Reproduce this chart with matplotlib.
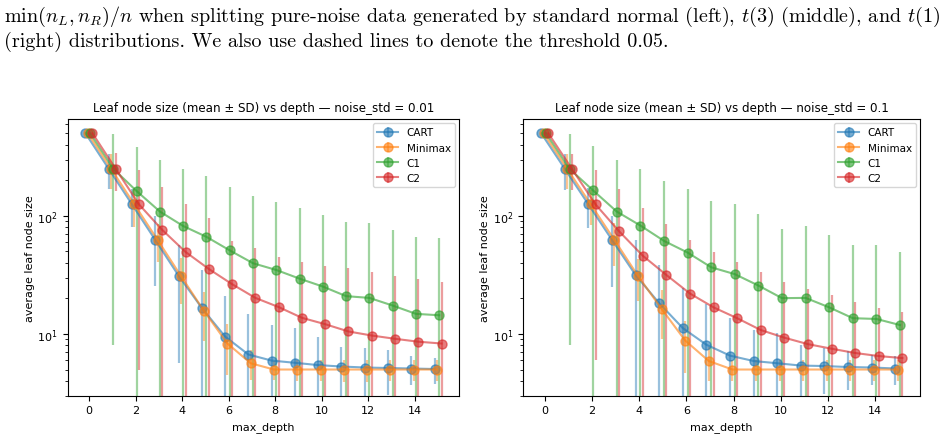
import numpy as np
import matplotlib
matplotlib.use('Agg')
import matplotlib.pyplot as plt

plt.rcParams['mathtext.fontset'] = 'cm'

depth = np.arange(16)
methods = ['CART', 'Minimax', 'C1', 'C2']
offsets = [-0.15, -0.05, 0.05, 0.15]

# noise_std = 0.01
cart_mean_01 = [500, 250, 125, 62.5, 31.2, 16.6, 9.5, 6.7, 5.95, 5.7, 5.45, 5.3, 5.2, 5.15, 5.1, 5.05]
cart_sd_01 = [0, 82, 45, 37, 25.5, 18, 11.6, 8.1, 5.9, 5.5, 4.05, 2.5, 2.4, 2.1, 1.4, 1.25]
minimax_mean_01 = [500, 250, 125, 62.5, 31, 15.6, 8.3, 5.65, 5, 5, 5, 5, 5, 5, 5, 5]
minimax_sd_01 = [0, 82, 44, 22, 13, 6.9, 3.8, 1.6, 0.9, 1.0, 1.0, 1.05, 1.05, 1.0, 1.0, 1.0]
c1_mean_01 = [500, 250, 162, 108.7, 82, 66.4, 51, 39.7, 34.8, 29.4, 25.2, 20.9, 20.2, 17.4, 14.8, 14.4]
c1_sd_01 = [0, 242, 224, 186, 168, 149, 124, 109, 97, 88, 77, 68, 67, 59, 51, 51]
c2_mean_01 = [500, 250, 125, 76, 49.5, 35.5, 26.4, 20.2, 16.9, 13.7, 12.1, 10.5, 9.7, 9.1, 8.6, 8.3]
c2_sd_01 = [0, 88, 120, 99, 76, 61, 35.4, 33.4, 27.8, 26.8, 25.6, 25.5, 23.7, 21.7, 20.7, 19]

# noise_std = 0.1
cart_mean_1 = [500, 250, 125, 62.5, 31.5, 18.2, 11.2, 8.1, 6.55, 5.9, 5.65, 5.4, 5.35, 5.25, 5.2, 5.1]
cart_sd_1 = [0, 84, 46, 37.5, 31, 20.3, 13.2, 9.9, 7, 4.9, 4.55, 2.6, 2.25, 1.9, 1.5, 1.4]
minimax_mean_1 = [500, 250, 125, 62.5, 31, 16.3, 8.8, 5.9, 5, 5, 5, 5, 5, 5, 5, 5]
minimax_sd_1 = [0, 82, 42, 25, 12, 7.2, 4.1, 1.9, 1.0, 1.0, 1.0, 1.0, 1.0, 1.0, 1.0, 1.0]
c1_mean_1 = [500, 250, 164, 108.7, 82.8, 61.4, 48.9, 36.7, 32.1, 25.7, 20.1, 20.2, 16.8, 13.6, 13.4, 11.9]
c1_sd_1 = [0, 242, 230, 191, 167, 136, 120, 98, 94, 77, 57.5, 62.6, 52.6, 43.6, 43.8, 37.9]
c2_mean_1 = [500, 250, 125, 74, 46, 31.6, 22, 16.8, 13.6, 10.8, 9.3, 8.2, 7.5, 6.9, 6.5, 6.25]
c2_sd_1 = [0, 86, 119, 95, 71, 54, 41, 32.4, 27, 22.6, 18.1, 15.9, 13.9, 11.9, 10, 9.15]

panels = [
    ('0.01', [cart_mean_01, minimax_mean_01, c1_mean_01, c2_mean_01],
     [cart_sd_01, minimax_sd_01, c1_sd_01, c2_sd_01]),
    ('0.1', [cart_mean_1, minimax_mean_1, c1_mean_1, c2_mean_1],
     [cart_sd_1, minimax_sd_1, c1_sd_1, c2_sd_1]),
]

fig = plt.figure(figsize=(9.46, 4.35), dpi=100)

line1 = (r'$\min(n_L, n_R)/n$ when splitting pure-noise data generated by standard normal (left), '
         r'$t(3)$ (middle), and $t(1)$')
line2 = '(right) distributions. We also use dashed lines to denote the threshold 0.05.'
fig.text(0.004, 0.962, line1, family='cmr10', fontsize=14.5, va='center', ha='left')
fig.text(0.004, 0.903, line2, family='cmr10', fontsize=14.5, va='center', ha='left')

boxes = [[0.0714, 0.088, 0.4138, 0.636], [0.5529, 0.088, 0.4197, 0.636]]

for box, (noise, means, sds) in zip(boxes, panels):
    ax = fig.add_axes(box)
    for name, off, m, s in zip(methods, offsets, means, sds):
        eb = ax.errorbar(depth + off, m, yerr=s, marker='o', markersize=6.5,
                         linewidth=1.5, elinewidth=1.6, alpha=0.6, label=name)
        # error bars look a bit paler than the markers
        for col in eb[2]:
            col.set_alpha(0.45)
    ax.set_yscale('log')
    ax.set_ylim(3.0, 660)
    ax.set_xlim(-0.92, 15.9)
    ax.set_xticks(range(0, 16, 2))
    ax.tick_params(labelsize=8)
    ax.set_title(f'Leaf node size (mean \u00b1 SD) vs depth \u2014 noise_std = {noise}', fontsize=8.6)
    ax.set_xlabel('max_depth', fontsize=8)
    ax.set_ylabel('average leaf node size', fontsize=8, labelpad=2)
    ax.legend(loc='upper right', fontsize=7.5, borderaxespad=0.4)

fig.savefig('out.png', dpi=100)
